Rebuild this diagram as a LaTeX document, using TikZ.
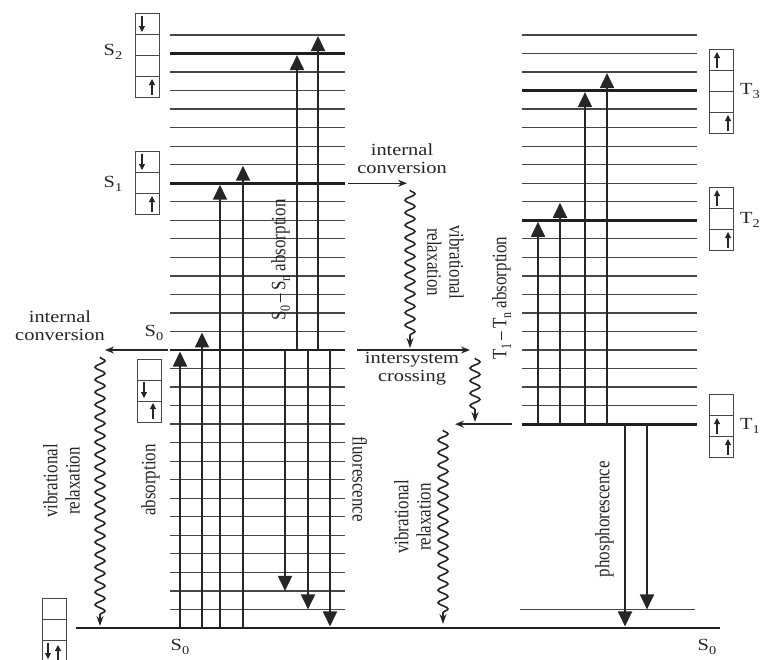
\documentclass[tikz,border=0pt]{standalone}
\usepackage{fontspec}
\setmainfont{Liberation Serif}
\usetikzlibrary{arrows.meta,decorations.pathmorphing}
\newcommand{\hx}[1]{\scalebox{1.2}[1]{\begin{tabular}{@{}c@{}}#1\end{tabular}}}
\newcommand{\vx}[1]{\scalebox{1}[1.2]{\begin{tabular}{@{}c@{}}#1\end{tabular}}}
\newcommand{\sbs}[1]{\raisebox{-4pt}{\fontsize{12}{12}\selectfont #1}}
\newcommand{\cellbox}[3]{\foreach \ci in {1,...,#3}{\draw[spinbox] (#1,{#2+21*(\ci-1)}) rectangle ++(24,21);}}
\newcommand{\spinup}[2]{\draw[spin] (#1,#2) -- ++(0,-16);}
\newcommand{\spindown}[2]{\draw[spin] (#1,#2) -- ++(0,16);}
\begin{document}
\begin{tikzpicture}[x=1pt,y=-1pt,
  declare function={L(\k)=35+18.53*\k;},
  thinlevel/.style={line width=1.3pt, draw=black!72},
  thicklevel/.style={line width=2.9pt, draw=black!88},
  trans/.style={line width=1.9pt, draw=black!85, -{Triangle[length=15pt,width=14pt]}},
  smallarrow/.style={line width=1.3pt, draw=black!85, -{Stealth[length=9pt,width=7pt]}},
  wavy/.style={line width=1.6pt, draw=black!85, decorate,
     decoration={snake, segment length=12.5pt, amplitude=5pt, post length=9pt},
     -{Stealth[length=10pt,width=7pt]}},
  spinbox/.style={line width=1pt, draw=black!72},
  spin/.style={line width=1.1pt, draw=black!85, -{Triangle[length=6pt,width=6pt]}},
  lbl/.style={inner sep=0pt, text=black!85, font=\fontsize{17}{18.5}\selectfont},
]
\useasboundingbox (0,0) rectangle (763,659);

% left column levels
\foreach \k in {0,...,31}{\draw[thinlevel] (170,{L(\k)}) -- (345,{L(\k)});}
\foreach \k in {1,8,17}{\draw[thicklevel] (170,{L(\k)}) -- (345,{L(\k)});}
% right column levels
\foreach \k in {0,...,21}{\draw[thinlevel] (522,{L(\k)}) -- (697,{L(\k)});}
\foreach \k in {3,10,21}{\draw[thicklevel] (522,{L(\k)}) -- (697,{L(\k)});}
\draw[thinlevel] (520,{L(31)}) -- (695,{L(31)});
% ground
\draw[thicklevel] (76,{L(32)}) -- (720,{L(32)});

% absorption from ground
\draw[trans] (180,{L(32)}) -- (180,{L(17)+1.5});
\draw[trans] (202,{L(32)}) -- (202,{L(16)+1});
\draw[trans] (220,{L(32)}) -- (220,{L(8)+1.5});
\draw[trans] (243,{L(32)}) -- (243,{L(7)+1});
% S0-Sn absorption
\draw[trans] (297,{L(17)}) -- (297,{L(1)+1.5});
\draw[trans] (318,{L(17)}) -- (318,{L(0)+1});
% fluorescence
\draw[trans] (285,{L(17)}) -- (285,{L(30)});
\draw[trans] (308,{L(17)}) -- (308,{L(31)});
\draw[trans] (330,{L(17)}) -- (330,{L(32)-1.5});
% T1-Tn absorption
\draw[trans] (538,{L(21)}) -- (538,{L(10)+1.5});
\draw[trans] (560,{L(21)}) -- (560,{L(9)+1});
\draw[trans] (585,{L(21)}) -- (585,{L(3)+1.5});
\draw[trans] (607,{L(21)}) -- (607,{L(2)+1});
% phosphorescence
\draw[trans] (625,{L(21)}) -- (625,{L(32)-1.5});
\draw[trans] (647,{L(21)}) -- (647,{L(31)});

% small arrows
\draw[smallarrow] (168,{L(17)}) -- (105,{L(17)});
\draw[smallarrow] (348,{L(8)}) -- (407,{L(8)});
\draw[smallarrow] (357,{L(17)}) -- (470,{L(17)});
\draw[smallarrow] (512,{L(21)}) -- (455,{L(21)});

% wavy arrows
\draw[wavy] (100,357) -- (100,626);
\draw[wavy] (410,190) -- (410,348);
\draw[wavy] (475,358) -- (475,422);
\draw[wavy] (443,430) -- (443,624);

% texts
\node[lbl] (ic1) at (60,328) {\hx{internal\\conversion}};
\node[lbl] (ic2) at (402,161) {\hx{internal\\conversion}};
\node[lbl] (isc) at (412,369) {\hx{intersystem\\crossing}};
\node[lbl,rotate=90] (vr1) at (64,481) {\vx{vibrational\\relaxation}};
\node[lbl,rotate=-90] (vr2) at (443,262) {\vx{vibrational\\relaxation}};
\node[lbl,rotate=90] (vr3) at (415,517) {\vx{vibrational\\relaxation}};
\node[lbl,rotate=90] (abs) at (151,480) {\vx{absorption}};
\node[lbl,rotate=-90] (flu) at (357,479) {\vx{fluorescence}};
\node[lbl,rotate=90] (pho) at (605,519) {\vx{phosphorescence}};
\node[lbl,rotate=90] (ssabs) at (281,260) {\vx{S\sbs{0}\,–\,S\sbs{n} absorption}};
\node[lbl,rotate=90] (ttabs) at (502,298) {\vx{T\sbs{1}\,–\,T\sbs{n} absorption}};

% state labels
\node[lbl] (s2) at (113,52) {\hx{S\sbs{2}}};
\node[lbl] (s1) at (113,184) {\hx{S\sbs{1}}};
\node[lbl] (s0a) at (154,333) {\hx{S\sbs{0}}};
\node[lbl] (s0b) at (180,647) {\hx{S\sbs{0}}};
\node[lbl] (s0c) at (707,647) {\hx{S\sbs{0}}};
\node[lbl,anchor=west] (t3) at (740,91) {\hx{T\sbs{3}}};
\node[lbl,anchor=west] (t2) at (740,220) {\hx{T\sbs{2}}};
\node[lbl,anchor=west] (t1) at (740,426) {\hx{T\sbs{1}}};

% spin boxes
\cellbox{135}{13}{4}
\spindown{142}{16}\spinup{152}{95}
\cellbox{135}{151}{3}
\spindown{142}{154}\spinup{152}{212}
\cellbox{137}{359}{3}
\spindown{144}{382}\spinup{153}{419}
\cellbox{42}{598}{3}
\spindown{48}{643}\spinup{58}{661}
\cellbox{709}{49}{4}
\spinup{717}{68}\spinup{728}{131}
\cellbox{709}{187}{3}
\spinup{717}{206}\spinup{728}{248}
\cellbox{709}{394}{3}
\spinup{717}{434}\spinup{728}{455}
\end{tikzpicture}
\end{document}
